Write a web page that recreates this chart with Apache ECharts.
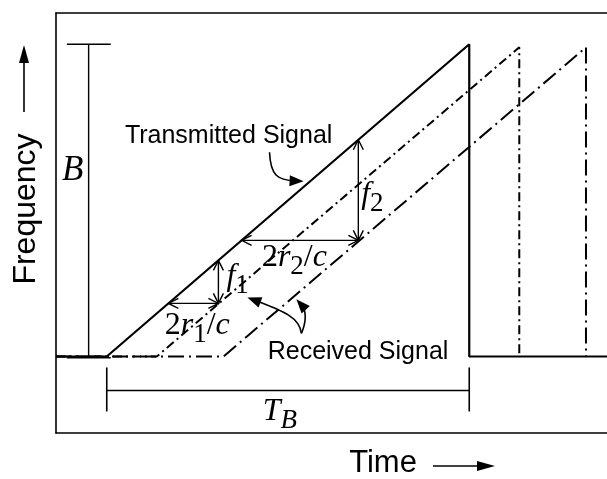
<!DOCTYPE html>
<html>
<head>
<meta charset="utf-8">
<script src="https://cdn.jsdelivr.net/npm/echarts@6/dist/echarts.min.js"></script>
<style>
  html, body { margin: 0; padding: 0; background: #fff; }
  #chart { width: 607px; height: 479px; }
</style>
</head>
<body>
<div id="chart"></div>
<script>
// time in units of T_B, frequency in units of B
var tRange = [-0.14, 1.38];
var fRange = [-0.245, 1.1];
var delays = [0.138, 0.322];          // 2r1/c, 2r2/c
var rxPeak = [0.99, 0.99];

var txLine  = [[tRange[0], 0], [0, 0], [1, 1], [1, 0], [tRange[1], 0]];
var rx1Line = [[tRange[0], 0], [delays[0], 0], [1 + delays[0], rxPeak[0]], [1 + delays[0], 0]];
var rx2Line = [[tRange[0], 0], [delays[1], 0], [1 + delays[1], rxPeak[1]], [1 + delays[1], 0]];

// frequency levels where the delay arrows are drawn
var arrowLevels = [0.17, 0.372];

var serif = '"Liberation Serif", "DejaVu Serif", serif';
var sans = '"Liberation Sans", Arial, sans-serif';

var mychart = echarts.init(document.getElementById('chart'));

function seg(p, q, w) {
    return { type: 'line', shape: { x1: p[0], y1: p[1], x2: q[0], y2: q[1] },
             style: { stroke: '#000', lineWidth: w || 1.4 } };
}

// open V head, s = unit direction pointing into the tip
function openHead(tip, sx, sy) {
    var L = 10, W = 5;
    return { type: 'polyline', shape: { points: [
        [tip[0] - sx * L - sy * W, tip[1] - sy * L + sx * W], tip,
        [tip[0] - sx * L + sy * W, tip[1] - sy * L - sx * W]] },
        style: { stroke: '#000', lineWidth: 1.4, fill: null } };
}

function filledHead(tip, sx, sy) {
    var L = 14, W = 5.5;
    return { type: 'polygon', shape: { points: [
        [tip[0] - sx * L - sy * W, tip[1] - sy * L + sx * W], tip,
        [tip[0] - sx * L + sy * W, tip[1] - sy * L - sx * W]] },
        style: { fill: '#000' } };
}

function measureArrow(api, a, b) {
    var p = api.coord(a), q = api.coord(b);
    var dx = q[0] - p[0], dy = q[1] - p[1];
    var len = Math.sqrt(dx * dx + dy * dy);
    var ux = dx / len, uy = dy / len;
    return [seg(p, q), openHead(q, ux, uy), openHead(p, -ux, -uy)];
}

function callout(api, pts) {
    var c = pts.map(function (d) { return api.coord(d); });
    var e = c[3], k = c[2];
    var dx = e[0] - k[0], dy = e[1] - k[1];
    var len = Math.sqrt(dx * dx + dy * dy);
    return [
        { type: 'bezierCurve', shape: { x1: c[0][0], y1: c[0][1], cpx1: c[1][0], cpy1: c[1][1],
            cpx2: c[2][0], cpy2: c[2][1], x2: e[0] - dx / len * 8, y2: e[1] - dy / len * 8 },
          style: { stroke: '#000', lineWidth: 1.6, fill: null } },
        filledHead(e, dx / len, dy / len)
    ];
}

var mathRich = {
    i: { fontFamily: serif, fontStyle: 'italic', fontSize: 32, lineHeight: 32 },
    b: { fontFamily: serif, fontStyle: 'italic', fontSize: 35, lineHeight: 35 },
    n: { fontFamily: serif, fontSize: 32, lineHeight: 32 },
    s: { fontFamily: serif, fontSize: 27, lineHeight: 27, padding: [19, 0, 0, 0] },
    si: { fontFamily: serif, fontStyle: 'italic', fontSize: 27, lineHeight: 27, padding: [19, 0, 0, 0] }
};

function label(api, at, text, opts) {
    var p = api.coord(at);
    var st = { text: text, fill: '#000', align: opts.align || 'left', verticalAlign: 'middle' };
    if (opts.sans) {
        st.fontFamily = sans; st.fontSize = opts.size || 25;
    } else {
        st.rich = mathRich; st.fontFamily = serif; st.fontSize = 32;
    }
    return { type: 'text', x: p[0], y: p[1], style: st };
}

function renderNotes(params, api) {
    var a1 = arrowLevels[0], a2 = arrowLevels[1];
    var t1 = a1 + delays[0], t2 = a2 + delays[1];
    var kids = [];
    // B marker
    kids.push(seg(api.coord([-0.05, 0]), api.coord([-0.05, 1]), 1.4));
    kids.push(seg(api.coord([-0.11, 1]), api.coord([0.011, 1]), 1.6));
    kids.push(seg(api.coord([-0.11, -0.004]), api.coord([0.011, -0.004]), 1.6));
    // T_B marker
    kids.push(seg(api.coord([0, -0.109]), api.coord([1, -0.109]), 1.4));
    kids.push(seg(api.coord([0, -0.035]), api.coord([0, -0.176]), 1.6));
    kids.push(seg(api.coord([1, -0.035]), api.coord([1, -0.176]), 1.6));
    // delay / beat frequency arrows
    kids = kids.concat(measureArrow(api, [a1, a1], [t1, a1]));
    kids = kids.concat(measureArrow(api, [t1, t1], [t1, a1]));
    kids = kids.concat(measureArrow(api, [a2, a2], [t2, a2]));
    kids = kids.concat(measureArrow(api, [t2, t2], [t2, a2]));
    // callouts
    kids = kids.concat(callout(api, [[0.449, 0.654], [0.452, 0.58], [0.47, 0.565], [0.543, 0.561]]));
    kids = kids.concat(callout(api, [[0.537, 0.074], [0.532, 0.125], [0.49, 0.144], [0.388, 0.189]]));
    kids = kids.concat(callout(api, [[0.537, 0.074], [0.551, 0.112], [0.551, 0.147], [0.523, 0.183]]));
    // labels
    kids.push(label(api, [-0.094, 0.596], '{b|B}', { align: 'center' }));
    kids.push(label(api, [0.33, 0.256], '{i|f}{s|1}', {}));
    kids.push(label(api, [0.16, 0.1], '{n|2}{i|r}{s|1}{n|/}{i|c}', {}));
    kids.push(label(api, [0.428, 0.318], '{n|2}{i|r}{s|2}{n|/}{i|c}', {}));
    kids.push(label(api, [0.702, 0.519], '{i|f}{s|2}', {}));
    kids.push(label(api, [0.43, -0.176], '{i|T}{si|B}', {}));
    kids.push(label(api, [0.05, 0.705], 'Transmitted Signal', { sans: true }));
    kids.push(label(api, [0.444, 0.013], 'Received Signal', { sans: true }));
    return { type: 'group', children: kids };
}

var axisLine = { show: true, onZero: false, lineStyle: { color: '#000', width: 1.6 } };
var hidden = { axisTick: { show: false }, axisLabel: { show: false }, splitLine: { show: false } };

var options = {
    animation: false,
    grid: { left: 56, right: 0, top: 13, bottom: 46 },
    xAxis: [
        Object.assign({ type: 'value', min: tRange[0], max: tRange[1], position: 'bottom', axisLine: axisLine }, hidden),
        Object.assign({ type: 'value', min: tRange[0], max: tRange[1], position: 'top', axisLine: axisLine }, hidden)
    ],
    yAxis: Object.assign({ type: 'value', min: fRange[0], max: fRange[1], axisLine: axisLine }, hidden),
    graphic: [
        { type: 'text', x: 26, y: 209, rotation: Math.PI / 2,
          style: { text: 'Frequency', fontFamily: sans, fontSize: 32, fill: '#000',
                   align: 'center', verticalAlign: 'middle' } },
        { type: 'line', shape: { x1: 24, y1: 112, x2: 24, y2: 58 }, style: { stroke: '#000', lineWidth: 1.6 } },
        { type: 'polygon', shape: { points: [[24, 45], [19, 63], [29, 63]] }, style: { fill: '#000' } },
        { type: 'text', x: 383, y: 463,
          style: { text: 'Time', fontFamily: sans, fontSize: 31, fill: '#000',
                   align: 'center', verticalAlign: 'middle' } },
        { type: 'line', shape: { x1: 433, y1: 466, x2: 482, y2: 466 }, style: { stroke: '#000', lineWidth: 1.6 } },
        { type: 'polygon', shape: { points: [[495, 466], [477, 461], [477, 471]] }, style: { fill: '#000' } }
    ],
    series: [
        { name: 'Transmitted', type: 'line', data: txLine, symbol: 'none', clip: false,
          lineStyle: { color: '#000', width: 2.2 } },
        { name: 'Received 1', type: 'line', data: rx1Line, symbol: 'none', clip: false,
          lineStyle: { color: '#000', width: 2, type: [9, 4, 2, 4] } },
        { name: 'Received 2', type: 'line', data: rx2Line, symbol: 'none', clip: false,
          lineStyle: { color: '#000', width: 2, type: [16, 5, 2, 5] } },
        { name: 'notes', type: 'custom', data: [0], renderItem: renderNotes, clip: false, silent: true }
    ]
};
mychart.setOption(options);
</script>
</body>
</html>
